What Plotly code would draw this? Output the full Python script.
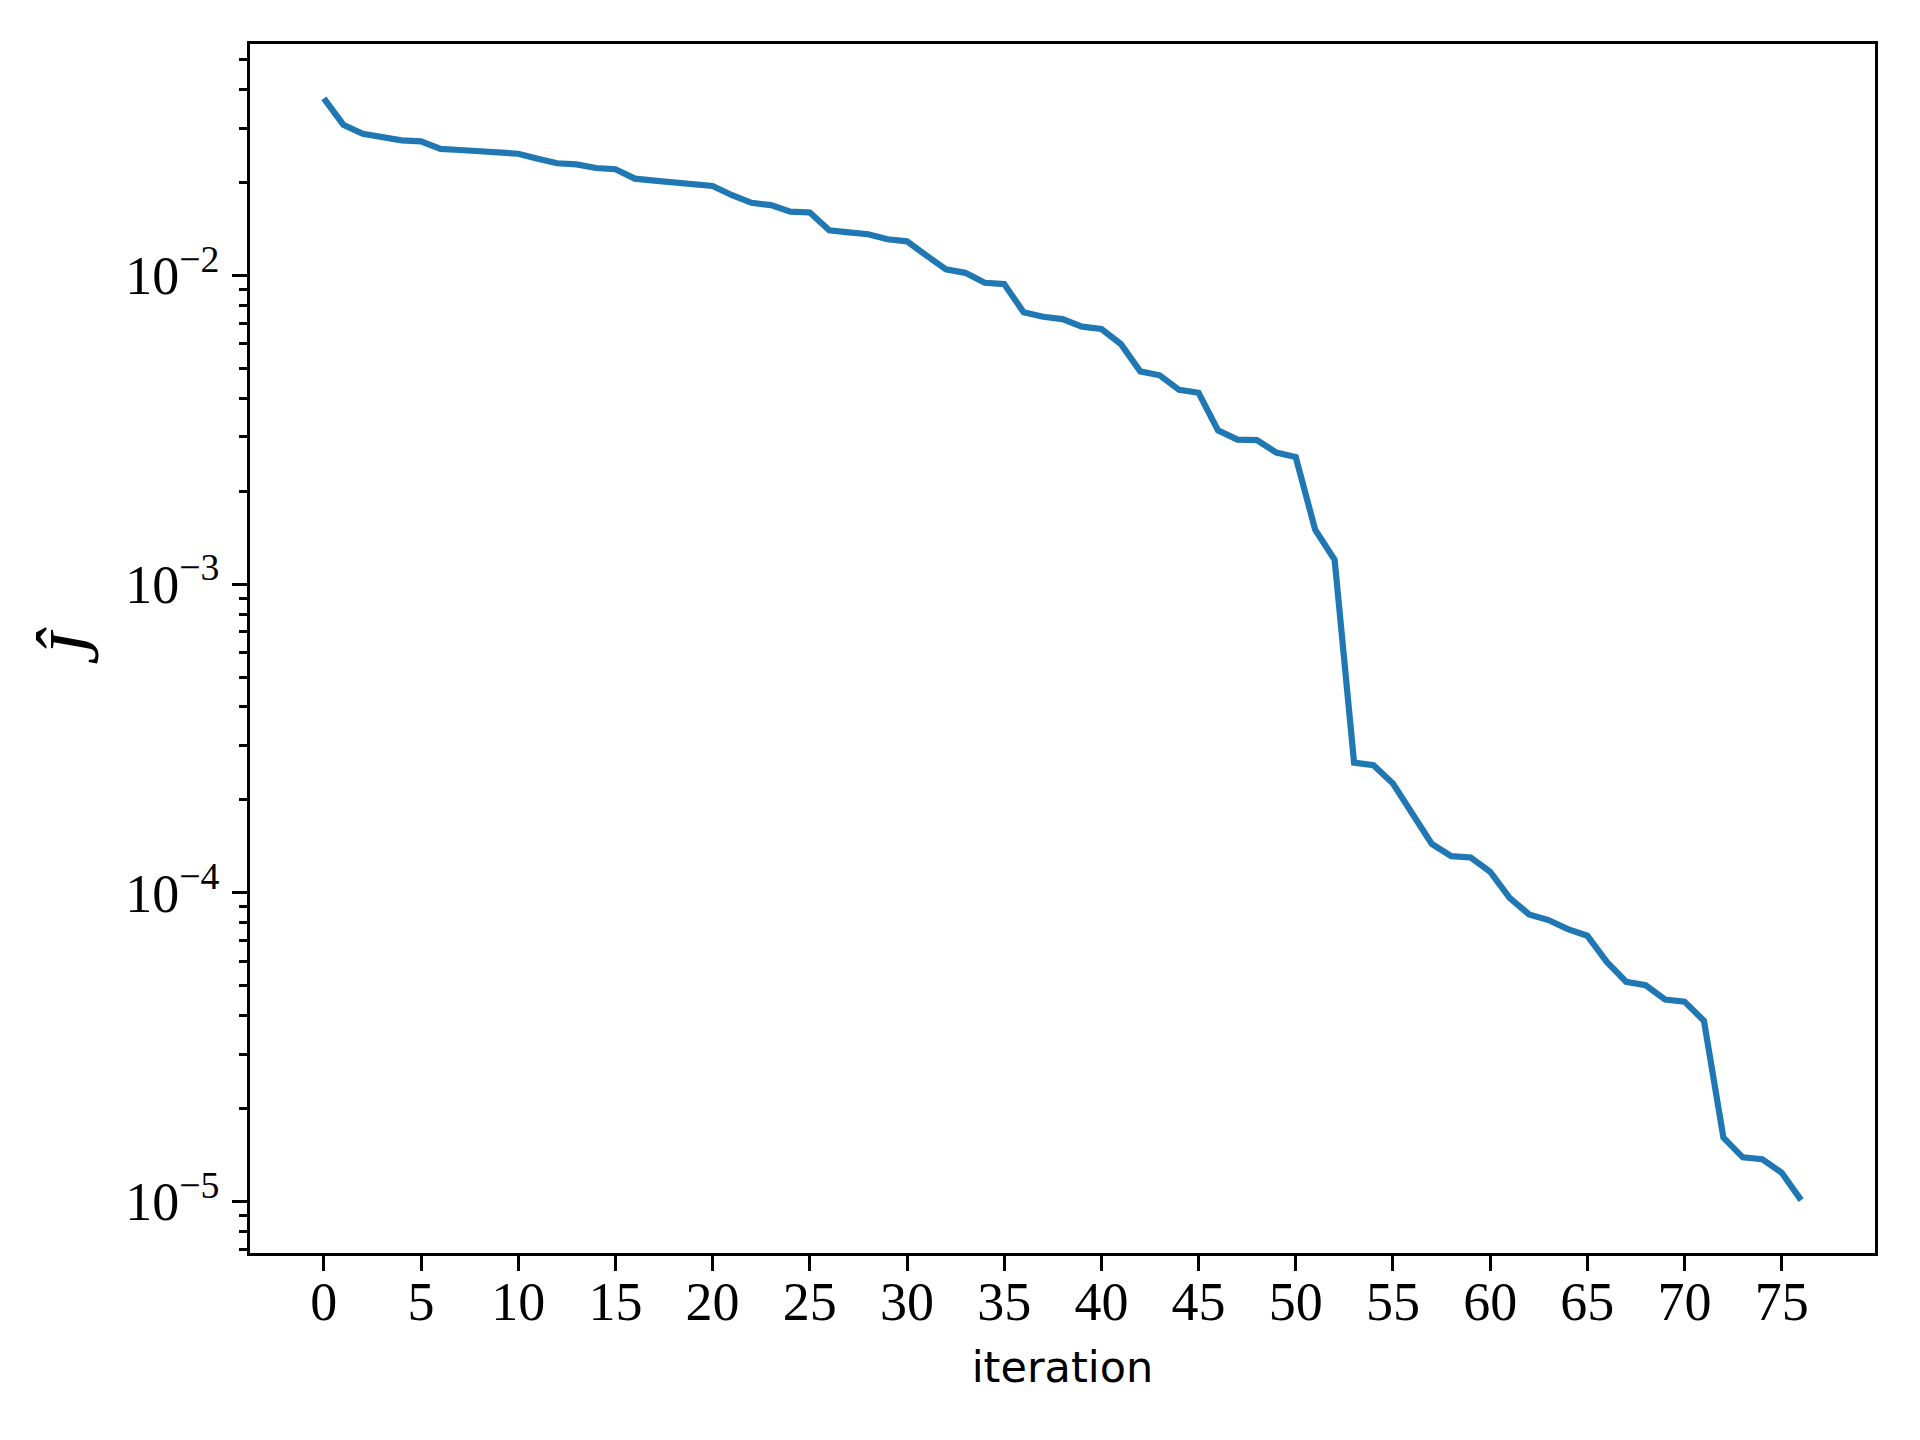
import plotly.graph_objects as go

# ---- data ----
iterations = list(range(77))
J_hat = [
    0.0375, 0.0308, 0.0288, 0.0282, 0.0274, 0.0272, 0.0257, 0.0255, 0.0253, 0.0250,
    0.0248, 0.0239, 0.0231, 0.0229, 0.0223, 0.0221, 0.0206, 0.0203, 0.0201, 0.0198,
    0.0195, 0.0182, 0.0172, 0.0169, 0.0161, 0.0160, 0.0140, 0.0138, 0.0136, 0.0131,
    0.0129, 0.0116, 0.01047, 0.0102, 0.00947, 0.00938, 0.00760, 0.00735, 0.00722, 0.00683,
    0.00671, 0.00600, 0.00489, 0.00475, 0.00426, 0.00417, 0.00315, 0.00294, 0.00293, 0.00267,
    0.00258, 0.00150, 0.00120, 0.000264, 0.000259, 0.000226, 0.000181, 0.000144, 0.0001315, 0.0001302,
    0.0001170, 9.63e-5, 8.51e-5, 8.16e-5, 7.63e-5, 7.26e-5, 5.97e-5, 5.15e-5, 5.02e-5, 4.51e-5,
    4.44e-5, 3.85e-5, 1.61e-5, 1.39e-5, 1.37e-5, 1.24e-5, 1.01e-5,
]
x_tick_vals = list(range(0, 80, 5))
y_tick_vals = [1e-5, 1e-4, 1e-3, 1e-2]
y_tick_text = ["10<sup>\u22125</sup>", "10<sup>\u22124</sup>", "10<sup>\u22123</sup>", "10<sup>\u22122</sup>"]
y_minor_vals = [k * 10.0 ** e for e in range(-6, -1) for k in range(2, 10)]

serif = "Liberation Serif, DejaVu Serif, serif"

fig = go.Figure()
fig.add_trace(go.Scatter(
    x=iterations, y=J_hat, mode="lines",
    line=dict(color="#1f77b4", width=6.2),
    showlegend=False,
))

# page body adds an 8px offset; margins compensate
fig.update_layout(
    width=1920, height=1440,
    margin=dict(l=242, r=53, t=36, b=195),
    plot_bgcolor="white", paper_bgcolor="white",
)

fig.update_xaxes(
    range=[-3.8, 79.8],
    tickmode="array", tickvals=x_tick_vals,
    ticks="outside", ticklen=14.6, tickwidth=3.3, tickcolor="black",
    ticklabelstandoff=-16,
    tickfont=dict(family=serif, size=54, color="black"),
    showline=True, linecolor="black", linewidth=3.3, mirror=True,
    showgrid=False, zeroline=False,
    title=dict(text="iteration", font=dict(family="DejaVu Sans, sans-serif", size=43, color="black"), standoff=22),
)

fig.update_yaxes(
    type="log", range=[-5.167, -1.250],
    tickmode="array", tickvals=y_tick_vals, ticktext=y_tick_text,
    ticks="outside", ticklen=14.6, tickwidth=3.3, tickcolor="black",
    ticklabelstandoff=2,
    tickfont=dict(family=serif, size=54, color="black"),
    minor=dict(tickmode="array", tickvals=y_minor_vals, ticks="outside", ticklen=8.3, tickwidth=2.5, tickcolor="black", showgrid=False),
    showline=True, linecolor="black", linewidth=3.3, mirror=True,
    showgrid=False, zeroline=False,
    title=dict(text="<i>\u0134</i>", font=dict(family=serif, size=72, color="black"), standoff=4),
)

fig.write_html("out.html")
